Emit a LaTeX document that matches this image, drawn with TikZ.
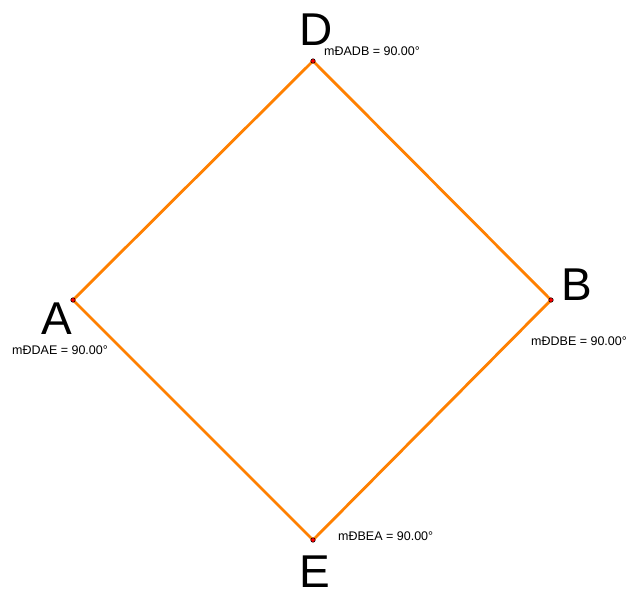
\documentclass[tikz,border=0pt]{standalone}
\usepackage{fontspec}
\setmainfont{Liberation Sans}
\definecolor{segorange}{RGB}{255,128,0}
\begin{document}
\begin{tikzpicture}[x=1pt,y=-1pt,
  seg/.style={draw=segorange,line width=2.8pt},
  pt/.style={circle,fill=red,draw=black,line width=0.5pt,inner sep=0pt,minimum size=4.5pt},
  big/.style={font=\fontsize{46}{46}\selectfont,inner sep=0pt},
  meas/.style={font=\fontsize{12.5}{12.5}\selectfont,inner sep=0pt,anchor=west}]
\useasboundingbox[fill=white] (0,0) rectangle (628,592);
\coordinate (D) at (313,61);
\coordinate (A) at (73,300);
\coordinate (B) at (551,300);
\coordinate (E) at (313,540);
\draw[seg,line join=miter] (D) -- (B) -- (E) -- (A) -- cycle;
\node[pt] (pD) at (D) {};
\node[pt] (pA) at (A) {};
\node[pt] (pB) at (B) {};
\node[pt] (pE) at (E) {};
\node[big] (lD) at (316,30) {D};
\node[big] (lA) at (57,319) {A};
\node[big] (lB) at (577,285) {B};
\node[big] (lE) at (315,572) {E};
\node[meas] (mD) at (324,51) {mÐADB = 90.00°};
\node[meas] (mA) at (12,350) {mÐDAE = 90.00°};
\node[meas] (mB) at (531,341) {mÐDBE = 90.00°};
\node[meas] (mE) at (338,536) {mÐBEA = 90.00°};
\end{tikzpicture}
\end{document}
